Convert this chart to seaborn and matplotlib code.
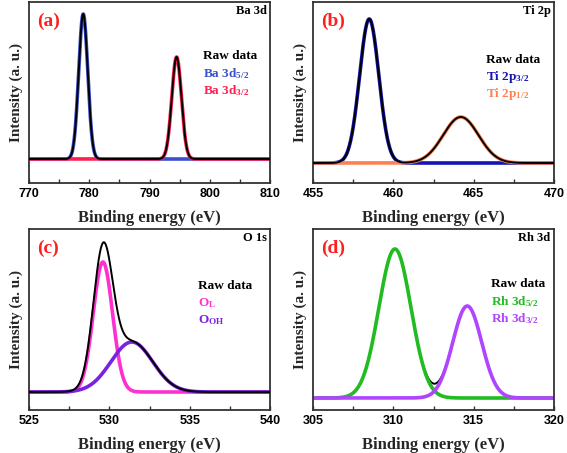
import numpy as np
import pandas as pd
import matplotlib
matplotlib.use("Agg")
import matplotlib.pyplot as plt
import seaborn as sns

# peak parameters: centre (eV), height (a.u.), sigma (eV)
ba_centres = [779.0, 794.5]
ba_heights = [145, 102]
ba_sigmas = [0.75, 0.8]
ba_names = ["Ba 3d$_{5/2}$", "Ba 3d$_{3/2}$"]

ti_centres = [458.5, 464.2]
ti_heights = [144, 46]
ti_sigmas = [0.6, 1.1]
ti_names = ["Ti 2p$_{3/2}$", "Ti 2p$_{1/2}$"]

o_centres = [529.6, 531.4]
o_heights = [130, 50]
o_sigmas = [0.6, 1.3]
o_names = ["O$_{\\mathregular{L}}$", "O$_{\\mathregular{OH}}$"]

rh_centres = [310.1, 314.6]
rh_heights = [149, 92]
rh_sigmas = [1.0, 0.9]
rh_names = ["Rh 3d$_{5/2}$", "Rh 3d$_{3/2}$"]

panels = [
    dict(tag="(a)", title="Ba 3d", xlim=(770, 810), major=10, ylim=(-24, 157),
         centres=ba_centres, heights=ba_heights, sigmas=ba_sigmas, names=ba_names,
         colors=["#3a50cc", "#ff1f4f"], leg=(0.72, 0.70), raw_on_top=True),
    dict(tag="(b)", title="Ti 2p", xlim=(455, 470), major=5, ylim=(-20, 161),
         centres=ti_centres, heights=ti_heights, sigmas=ti_sigmas, names=ti_names,
         colors=["#1414b4", "#ff7f50"], leg=(0.718, 0.68), raw_on_top=True),
    dict(tag="(c)", title="O 1s", xlim=(525, 540), major=5, ylim=(-18, 163),
         centres=o_centres, heights=o_heights, sigmas=o_sigmas, names=o_names,
         colors=["#ff30d0", "#7a22e0"], leg=(0.70, 0.685), raw_on_top=True),
    dict(tag="(d)", title="Rh 3d", xlim=(305, 320), major=5, ylim=(-12, 169),
         centres=rh_centres, heights=rh_heights, sigmas=rh_sigmas, names=rh_names,
         colors=["#22bb22", "#b044ff"], leg=(0.739, 0.696), raw_on_top=False),
]

sns.set_style("ticks")
plt.rcParams["font.family"] = ["Liberation Serif", "DejaVu Serif"]
plt.rcParams["mathtext.fontset"] = "custom"
plt.rcParams["mathtext.rm"] = "Liberation Serif:bold"
plt.rcParams["mathtext.it"] = "Liberation Serif:bold"
plt.rcParams["mathtext.bf"] = "Liberation Serif:bold"

fig = plt.figure(figsize=(5.67, 4.53), dpi=100)
lefts = [29 / 567, 313 / 567]
tops = [2, 229]
W, H = 241 / 567, 181 / 453

for i, p in enumerate(panels):
    col, row = i % 2, i // 2
    ax = fig.add_axes([lefts[col], 1 - (tops[row] + 181) / 453, W, H])
    x = np.linspace(p["xlim"][0], p["xlim"][1], 1200)
    comps = []
    for c, h, s, name, color in zip(p["centres"], p["heights"], p["sigmas"], p["names"], p["colors"]):
        y = h * np.exp(-(x - c) ** 2 / (2 * s ** 2))
        comps.append(y)
        sns.lineplot(x=x, y=y, ax=ax, color=color, lw=2.6, zorder=2)
    raw = np.sum(comps, axis=0)
    sns.lineplot(x=x, y=raw, ax=ax, color="black", lw=1.4,
                 zorder=3 if p["raw_on_top"] else 1)

    ax.set_xlim(*p["xlim"])
    ax.set_ylim(*p["ylim"])
    ax.set_xticks(np.arange(p["xlim"][0], p["xlim"][1] + 0.1, p["major"]))
    ax.set_xticks(np.arange(p["xlim"][0], p["xlim"][1] + 0.1, p["major"] / 2), minor=True)
    ax.set_yticks([])
    ax.tick_params(axis="x", which="both", direction="in", length=3, width=1, colors="#333333")
    ax.tick_params(axis="x", labelcolor="black")
    for lab in ax.get_xticklabels():
        lab.set_fontfamily("Liberation Sans")
        lab.set_fontweight("bold")
        lab.set_fontsize(9)
    for sp in ax.spines.values():
        sp.set_visible(True)
        sp.set_linewidth(1.3)
        sp.set_color("#333333")

    ax.set_xlabel("Binding energy (eV)", fontsize=12, fontweight="bold", labelpad=7)
    ax.set_ylabel("Intensity (a. u.)", fontsize=11, fontweight="bold", labelpad=4)

    ax.text(0.035, 0.895, p["tag"], transform=ax.transAxes, color="#ff1f1f",
            fontsize=14, fontweight="bold", va="center")
    ax.text(0.985, 0.95, p["title"], transform=ax.transAxes, color="black",
            fontsize=9, fontweight="bold", ha="right", va="center")

    lx, ly = p["leg"]
    ax.text(lx, ly, "Raw data", transform=ax.transAxes, fontsize=9.5,
            fontweight="bold", va="center", color="black")
    for k, (name, color) in enumerate(zip(p["names"], p["colors"])):
        ax.text(lx, ly - 0.095 * (k + 1), name, transform=ax.transAxes,
                fontsize=9.5, fontweight="bold", va="center", color=color)

fig.savefig("out.png", dpi=100)
